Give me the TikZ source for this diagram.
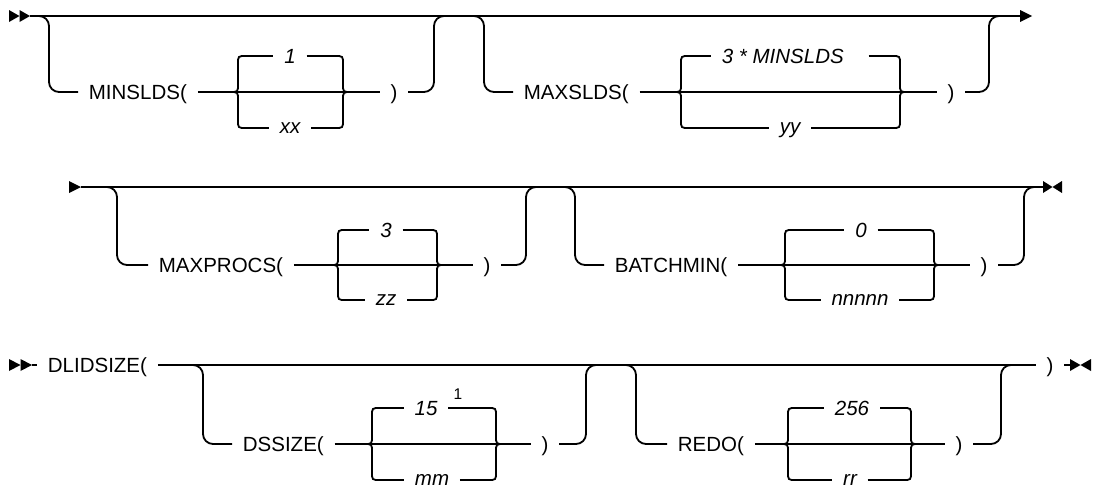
\documentclass[tikz,border=0pt]{standalone}
\usepackage{fontspec}
\setmainfont{Liberation Sans}
\begin{document}
\begin{tikzpicture}[
    x=1pt, y=-1pt,
    line width=1.8pt,
    kw/.style={anchor=west, inner xsep=10pt, inner ysep=0pt, text height=14.8pt, text depth=0pt,
               font=\fontsize{20.5}{24}\selectfont},
    num/.style={kw, anchor=center, font=\fontsize{20.5}{24}\selectfont\itshape},
    low/.style={num, text height=10.7pt},
    railbend/.style={rounded corners=10pt},
  ]
    \useasboundingbox (0,0) rectangle (1096,491);

    % braces of the six choice blocks
    \foreach \i/\l/\r/\u/\m/\d in {1/238/343/56/92/128, 2/681/900/56/92/128,
                                    3/338/437/230/265/300, 4/785/934/230/265/300,
                                    5/372/496/408/444/480, 6/788/911/408/444/480}{
      \coordinate (bl\i) at (\l-8,\m);
      \coordinate (br\i) at (\r+8,\m);
      \coordinate (ul\i) at (\l+8,\u);
      \coordinate (ur\i) at (\r-8,\u);
      \coordinate (dl\i) at (\l+8,\d);
      \coordinate (dr\i) at (\r-8,\d);
      \draw (ul\i) .. controls (\l,\u) .. (\l,\u+8) -- (\l,\m-8) .. controls (\l,\m) .. (bl\i);
      \draw (dl\i) .. controls (\l,\d) .. (\l,\d-8) -- (\l,\m+8) .. controls (\l,\m) .. (bl\i);
      \draw (ur\i) .. controls (\r,\u) .. (\r,\u+8) -- (\r,\m-8) .. controls (\r,\m) .. (br\i);
      \draw (dr\i) .. controls (\r,\d) .. (\r,\d-8) -- (\r,\m+8) .. controls (\r,\m) .. (br\i);
      \draw (bl\i) -- (br\i);
    }

    % row 1
    \fill (9,10) -- (19.5,16) -- (9,22) -- cycle;
    \fill (19.5,10) -- (30,16) -- (19.5,22) -- cycle;
    \coordinate (r1s) at (30,16);
    \coordinate (r1e) at (1020,16);
    \draw (r1s) -- (r1e);
    \fill (1020,10) -- (1032,16) -- (1020,22) -- cycle;

    \node[kw] (minsl) at (78,92) {MINSLDS(};
    \node[num] (one) at (290,56) {1};
    \node[low] (xx) at (290,128) {xx};
    \node[kw] (rp1) at (379.6,92) {)};
    \draw[railbend] (37,16) -- (49,16) -- (49,92) -- (minsl);
    \draw (minsl) -- (bl1);
    \draw (ul1) -- (one);  \draw (one) -- (ur1);
    \draw (dl1) -- (xx);   \draw (xx) -- (dr1);
    \draw (br1) -- (rp1);
    \draw[railbend] (rp1) -- (434,92) -- (434,16) -- (446,16);

    \node[kw] (maxsl) at (513,92) {MAXSLDS(};
    \node[num, anchor=west] (triple) at (711,56) {3 * MINSLDS\hspace*{14pt}};
    \node[low] (yy) at (790,128) {yy};
    \node[kw] (rp2) at (936.6,92) {)};
    \draw[railbend] (472,16) -- (484,16) -- (484,92) -- (maxsl);
    \draw (maxsl) -- (bl2);
    \draw (ul2) -- (triple);  \draw (triple) -- (ur2);
    \draw (dl2) -- (yy);      \draw (yy) -- (dr2);
    \draw (br2) -- (rp2);
    \draw[railbend] (rp2) -- (989,92) -- (989,16) -- (1001,16);

    % row 2
    \fill (69,181) -- (81,187) -- (69,193) -- cycle;
    \coordinate (r2s) at (81,187);
    \coordinate (r2e) at (1043,187);
    \draw (r2s) -- (r2e);
    \fill (1043,181) -- (1052.5,187) -- (1043,193) -- cycle;
    \fill (1062,181) -- (1052.5,187) -- (1062,193) -- cycle;

    \node[kw] (maxpr) at (148,265) {MAXPROCS(};
    \node[num] (three) at (386,230) {3};
    \node[low] (zz) at (386,300) {zz};
    \node[kw] (rp3) at (472.6,265) {)};
    \draw[railbend] (105,187) -- (117,187) -- (117,265) -- (maxpr);
    \draw (maxpr) -- (bl3);
    \draw (ul3) -- (three);  \draw (three) -- (ur3);
    \draw (dl3) -- (zz);     \draw (zz) -- (dr3);
    \draw (br3) -- (rp3);
    \draw[railbend] (rp3) -- (526,265) -- (526,187) -- (538,187);

    \node[kw] (batch) at (604,265) {BATCHMIN(};
    \node[num] (zero) at (861,230) {0};
    \node[low] (nn) at (860,300) {nnnnn};
    \node[kw] (rp4) at (969.6,265) {)};
    \draw[railbend] (563,187) -- (575,187) -- (575,265) -- (batch);
    \draw (batch) -- (bl4);
    \draw (ul4) -- (zero);  \draw (zero) -- (ur4);
    \draw (dl4) -- (nn);    \draw (nn) -- (dr4);
    \draw (br4) -- (rp4);
    \draw[railbend] (rp4) -- (1024,265) -- (1024,187) -- (1036,187);

    % row 3
    \fill (9,359) -- (20.5,365) -- (9,371) -- cycle;
    \fill (20.5,359) -- (32,365) -- (20.5,371) -- cycle;
    \coordinate (r3s) at (32,365);
    \coordinate (r3e) at (1070,365);
    \node[kw] (dlid) at (37,365) {DLIDSIZE(};
    \node[kw] (rp7) at (1035.6,365) {)};
    \draw (r3s) -- (dlid);
    \draw (dlid) -- (rp7);
    \draw (rp7) -- (r3e);
    \fill (1070,359) -- (1080.5,365) -- (1070,371) -- cycle;
    \fill (1091,359) -- (1080.5,365) -- (1091,371) -- cycle;

    \node[kw] (dss) at (232,444) {DSSIZE(};
    \node[num] (fifteen) at (426,408) {15};
    \node[font=\fontsize{15.5}{18}\selectfont, inner sep=0pt] (fn) at (458,394) {1};
    \node[low] (mm) at (432,480) {mm};
    \node[kw] (rp5) at (530.6,444) {)};
    \draw[railbend] (191,365) -- (203,365) -- (203,444) -- (dss);
    \draw (dss) -- (bl5);
    \draw (ul5) -- (fifteen);  \draw (fifteen) -- (ur5);
    \draw (dl5) -- (mm);       \draw (mm) -- (dr5);
    \draw (br5) -- (rp5);
    \draw[railbend] (rp5) -- (586,444) -- (586,365) -- (598,365);

    \node[kw] (redo) at (667,444) {REDO(};
    \node[num] (two56) at (852,408) {256};
    \node[low] (rr) at (850,480) {rr};
    \node[kw] (rp6) at (944.6,444) {)};
    \draw[railbend] (624,365) -- (636,365) -- (636,444) -- (redo);
    \draw (redo) -- (bl6);
    \draw (ul6) -- (two56);  \draw (two56) -- (ur6);
    \draw (dl6) -- (rr);     \draw (rr) -- (dr6);
    \draw (br6) -- (rp6);
    \draw[railbend] (rp6) -- (1001,444) -- (1001,365) -- (1013,365);
  \end{tikzpicture}
\end{document}
